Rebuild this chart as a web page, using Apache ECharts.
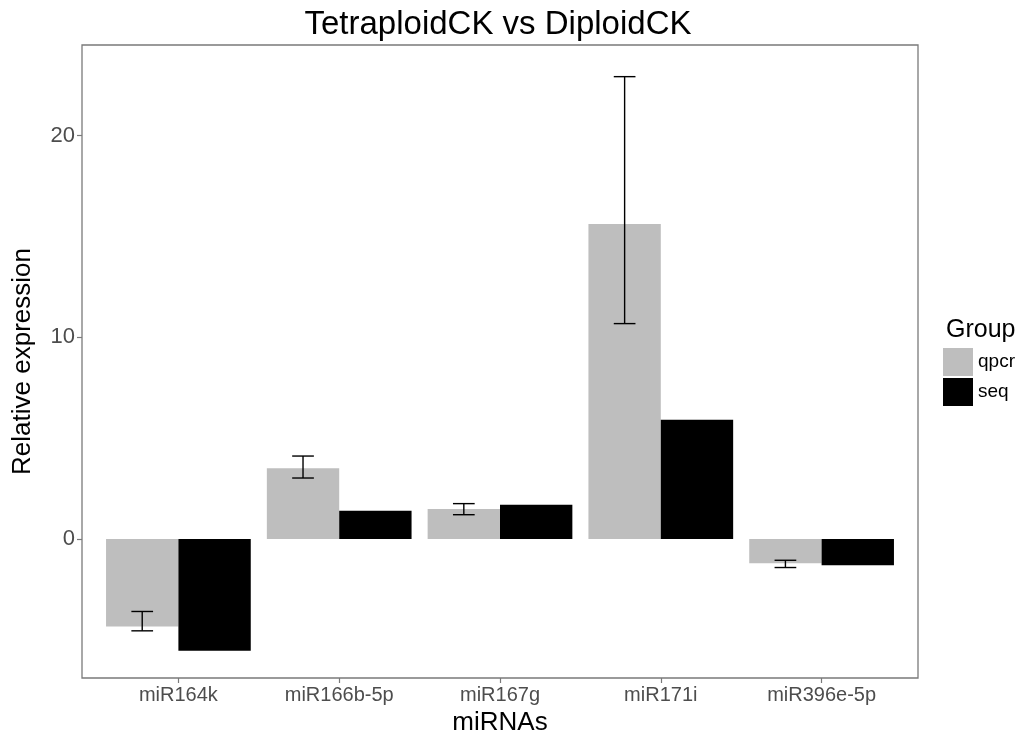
<!DOCTYPE html>
<html>
<head>
<meta charset="utf-8">
<script src="https://cdn.jsdelivr.net/npm/echarts@6/dist/echarts.min.js"></script>
<style>
  html, body { margin: 0; padding: 0; background: #fff; }
  #chart { width: 1029px; height: 738px; }
</style>
</head>
<body>
<div id="chart"></div>
<script>
// miRNA relative expression, TetraploidCK vs DiploidCK
const categories = ['miR164k', 'miR166b-5p', 'miR167g', 'miR171i', 'miR396e-5p'];
const qpcr = [-4.34, 3.51, 1.48, 15.62, -1.21];
const seq = [-5.55, 1.40, 1.70, 5.91, -1.31];
const qpcrLow = [-4.56, 3.02, 1.20, 10.68, -1.42];
const qpcrHigh = [-3.60, 4.11, 1.75, 22.93, -1.06];
const yTicks = [0, 10, 20];

const FONT = 'Liberation Sans, Arial, Helvetica, sans-serif';
const Y_MIN = -6.9, Y_MAX = 24.5;

const errData = categories.map((c, i) => [i, qpcrLow[i], qpcrHigh[i]]);

const chart = echarts.init(document.getElementById('chart'), null, { renderer: 'canvas' });

chart.setOption({
  backgroundColor: '#ffffff',
  animation: false,
  textStyle: { fontFamily: FONT },
  title: [{
    text: 'TetraploidCK vs DiploidCK',
    left: 498, top: 8, textAlign: 'center', padding: 0,
    textStyle: { fontFamily: FONT, fontSize: 33, fontWeight: 'normal', color: '#000' }
  }, {
    text: 'Group',
    left: 946, top: 318, padding: 0,
    textStyle: { fontFamily: FONT, fontSize: 25, fontWeight: 'normal', color: '#000' }
  }],
  legend: {
    data: ['qpcr', 'seq'],
    orient: 'vertical',
    left: 943, top: 348, padding: 0,
    icon: 'rect',
    itemWidth: 30, itemHeight: 28, itemGap: 2,
    textStyle: { fontFamily: FONT, fontSize: 19, color: '#000' }
  },
  grid: [
    // band layout for the bars (ggplot-style discrete expansion)
    { left: 98, right: 127, top: 45, bottom: 60, show: false, outerBoundsMode: 'none' },
    // outer panel frame
    { left: 82, right: 111, top: 45, bottom: 60, show: true, outerBoundsMode: 'none',
      borderColor: '#7a7a7a', borderWidth: 1.3, backgroundColor: '#ffffff', z: 0 }
  ],
  xAxis: [{
    type: 'category', gridIndex: 0, data: categories, position: 'bottom',
    axisLine: { show: false, onZero: false },
    axisTick: { show: true, alignWithLabel: true, length: 5, lineStyle: { color: '#7a7a7a', width: 1.2 } },
    axisLabel: { color: '#4d4d4d', fontSize: 20, margin: 7, fontFamily: FONT },
    name: 'miRNAs', nameLocation: 'middle', nameGap: 22,
    nameTextStyle: { fontFamily: FONT, fontSize: 26, color: '#000' }
  }, {
    type: 'value', gridIndex: 1, show: false
  }],
  yAxis: [{
    type: 'value', gridIndex: 0, min: Y_MIN, max: Y_MAX, show: false
  }, {
    type: 'value', gridIndex: 1, min: Y_MIN, max: Y_MAX,
    axisLine: { show: false },
    splitLine: { show: false },
    axisTick: { show: true, length: 5, customValues: yTicks, lineStyle: { color: '#7a7a7a', width: 1.2 } },
    axisLabel: { color: '#4d4d4d', fontSize: 22, margin: 7, fontFamily: FONT, customValues: yTicks },
    name: 'Relative expression', nameLocation: 'middle', nameGap: 46,
    nameTextStyle: { fontFamily: FONT, fontSize: 26, color: '#000' }
  }],
  series: [{
    name: 'qpcr', type: 'bar', xAxisIndex: 0, yAxisIndex: 0,
    data: qpcr, barWidth: '45%', barGap: '0%',
    itemStyle: { color: '#bebebe' }, z: 2
  }, {
    name: 'seq', type: 'bar', xAxisIndex: 0, yAxisIndex: 0,
    data: seq, barWidth: '45%', barGap: '0%',
    itemStyle: { color: '#000000' }, z: 2
  }, {
    name: 'qpcr error', type: 'custom', xAxisIndex: 0, yAxisIndex: 0,
    data: errData, z: 5,
    renderItem: function (params, api) {
      const band = api.size([1, 0])[0];
      const lo = api.coord([api.value(0), api.value(1)]);
      const hi = api.coord([api.value(0), api.value(2)]);
      const x = lo[0] - band * 0.225;
      const half = band * 0.0675;
      const style = { stroke: '#000', lineWidth: 1.4 };
      return {
        type: 'group',
        children: [
          { type: 'line', shape: { x1: x, y1: lo[1], x2: x, y2: hi[1] }, style },
          { type: 'line', shape: { x1: x - half, y1: lo[1], x2: x + half, y2: lo[1] }, style },
          { type: 'line', shape: { x1: x - half, y1: hi[1], x2: x + half, y2: hi[1] }, style }
        ]
      };
    }
  }]
});
</script>
</body>
</html>
